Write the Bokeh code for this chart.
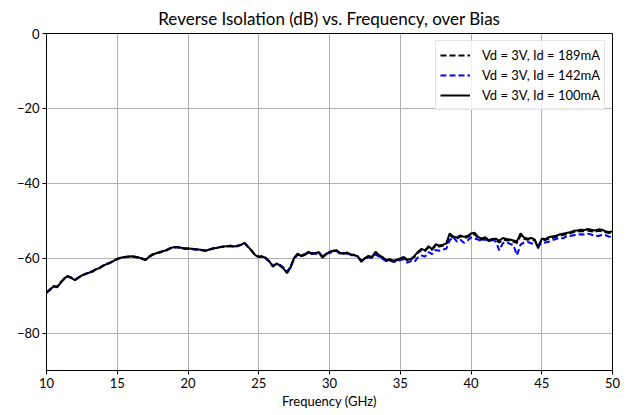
from bokeh.plotting import figure
from bokeh.models import Legend, LegendItem, ColumnDataSource, FixedTicker, Range1d
from bokeh.embed import file_html
from bokeh.resources import INLINE

freq_start = 10.0
freq_step = 0.25

s100 = [
-69.3,-68.3,-67.6,-67.8,-66.6,-65.4,-64.8,-65.3,-65.9,-65.2,-64.6,-64.2,-63.9,-63.5,-63.0,-62.6,
-62.0,-61.6,-61.2,-60.7,-60.2,-59.9,-59.7,-59.6,-59.5,-59.6,-59.8,-60.1,-60.5,-59.6,-59.0,-58.7,
-58.4,-58.1,-57.9,-57.3,-57.1,-57.1,-57.2,-57.4,-57.4,-57.5,-57.6,-57.7,-57.8,-58.0,-57.7,-57.4,
-57.3,-57.1,-56.9,-56.8,-56.7,-56.9,-56.7,-56.4,-55.9,-57.0,-58.0,-59.2,-59.7,-59.6,-59.9,-60.8,
-62.3,-61.4,-62.0,-62.8,-64.0,-62.5,-59.9,-58.8,-59.5,-59.2,-58.3,-58.9,-58.6,-58.5,-59.9,-59.0,
-58.3,-58.0,-57.9,-58.6,-58.8,-58.5,-59.0,-59.2,-59.5,-61.0,-60.0,-59.4,-59.7,-58.3,-59.2,-59.7,
-60.5,-60.3,-60.7,-60.4,-60.1,-59.7,-60.4,-60.2,-59.4,-58.3,-57.5,-57.9,-56.8,-57.6,-56.3,-56.6,
-56.4,-56.1,-53.4,-54.2,-54.5,-53.9,-54.3,-54.1,-53.4,-53.2,-54.3,-54.8,-54.4,-55.2,-54.9,-54.8,
-55.3,-54.6,-54.9,-55.0,-55.3,-55.5,-53.4,-54.5,-54.8,-54.6,-55.0,-57.4,-54.8,-54.9,-54.4,-54.2,
-54.0,-53.7,-53.5,-53.3,-53.1,-52.7,-52.6,-52.4,-52.5,-52.2,-52.4,-52.6,-52.3,-52.4,-52.8,-53.0,
-52.9]

s142 = [
-69.0,-68.5,-67.4,-67.6,-66.4,-65.6,-64.9,-65.2,-65.8,-65.3,-64.5,-64.3,-63.8,-63.6,-62.9,-62.7,
-62.1,-61.5,-61.3,-60.6,-60.3,-59.9,-59.8,-59.6,-59.6,-59.7,-59.9,-60.2,-60.4,-59.7,-59.1,-58.8,
-58.5,-58.2,-57.8,-57.4,-57.2,-57.0,-57.3,-57.5,-57.5,-57.6,-57.7,-57.8,-57.9,-58.1,-57.8,-57.5,
-57.2,-57.0,-57.0,-56.9,-56.8,-57.0,-56.8,-56.5,-56.0,-57.1,-58.1,-59.3,-59.6,-59.5,-60.1,-61.0,
-62.0,-61.7,-61.8,-62.5,-63.6,-62.2,-60.2,-59.1,-59.2,-58.9,-58.6,-58.5,-58.9,-58.4,-59.5,-58.8,
-58.6,-58.3,-58.1,-58.9,-58.6,-58.8,-59.3,-59.1,-59.8,-60.6,-60.2,-59.8,-59.9,-59.0,-59.6,-60.2,
-60.8,-60.6,-61.0,-60.9,-60.5,-60.3,-61.2,-60.8,-61.0,-59.8,-59.3,-59.6,-58.4,-58.9,-57.8,-58.0,
-57.7,-57.5,-55.2,-54.3,-55.6,-55.1,-55.9,-55.3,-54.5,-54.8,-55.0,-55.5,-55.0,-55.3,-54.9,-55.6,
-57.9,-56.0,-55.7,-56.2,-56.5,-59.2,-56.4,-55.8,-55.7,-56.0,-56.3,-56.6,-56.0,-55.8,-55.6,-55.2,
-54.9,-54.6,-54.7,-54.2,-54.1,-53.9,-53.8,-53.6,-53.7,-53.5,-53.7,-54.0,-54.1,-53.8,-53.9,-54.2,
-54.3]

s189 = [
-69.1,-68.4,-67.5,-67.7,-66.5,-65.5,-64.8,-65.2,-65.7,-65.2,-64.6,-64.2,-63.8,-63.5,-63.0,-62.6,
-62.0,-61.6,-61.2,-60.7,-60.2,-59.9,-59.7,-59.6,-59.5,-59.6,-59.8,-60.1,-60.4,-59.6,-59.0,-58.7,
-58.4,-58.1,-57.8,-57.3,-57.1,-57.0,-57.2,-57.4,-57.4,-57.5,-57.6,-57.7,-57.8,-58.0,-57.7,-57.4,
-57.2,-57.0,-56.9,-56.8,-56.7,-56.9,-56.7,-56.4,-55.9,-57.0,-58.0,-59.2,-59.6,-59.5,-60.0,-60.9,
-62.1,-61.5,-61.9,-62.6,-63.8,-62.3,-60.0,-58.9,-59.3,-59.0,-58.4,-58.7,-58.7,-58.4,-59.6,-58.9,
-58.4,-58.1,-58.0,-58.7,-58.7,-58.6,-59.1,-59.1,-59.6,-60.7,-60.1,-59.6,-59.8,-58.7,-59.4,-60.0,
-60.7,-60.5,-60.9,-60.6,-60.3,-60.0,-60.6,-60.4,-59.7,-58.6,-57.8,-58.1,-57.1,-57.8,-56.6,-56.9,
-56.7,-56.3,-53.8,-54.5,-54.8,-54.2,-54.6,-54.4,-53.8,-53.6,-54.6,-55.1,-54.7,-55.4,-55.2,-55.1,
-55.8,-55.0,-55.2,-55.3,-55.6,-56.0,-53.9,-54.8,-55.1,-54.9,-55.3,-56.8,-55.1,-55.2,-54.8,-54.6,
-54.3,-54.0,-53.8,-53.6,-53.4,-53.0,-52.9,-52.8,-52.8,-52.6,-52.8,-53.0,-52.7,-52.8,-53.1,-53.3,
-53.3]

x_ticks = [10, 15, 20, 25, 30, 35, 40, 45, 50]
y_ticks = [0, -20, -40, -60, -80]
y_tick_labels = {0: "0", -20: "\u221220", -40: "\u221240", -60: "\u221260", -80: "\u221280"}
labels = ["Vd = 3V, Id = 189mA", "Vd = 3V, Id = 142mA", "Vd = 3V, Id = 100mA"]

freqs = [freq_start + i * freq_step for i in range(len(s100))]

FONT = "Lato"

p = figure(width=631, height=415, output_backend="svg", toolbar_location=None,
           x_range=Range1d(10, 50), y_range=Range1d(-90, 0),
           title="Reverse Isolation (dB) vs. Frequency, over Bias",
           min_border_left=46, min_border_right=19, min_border_top=33, min_border_bottom=45)

p.title.align = "center"
p.title.text_font = FONT
p.title.text_font_size = "17px"
p.title.text_font_style = "normal"
p.title.text_color = "black"

p.outline_line_color = "black"
p.outline_line_width = 1
p.outline_line_alpha = 1

for ax in (p.xaxis[0], p.yaxis[0]):
    ax.axis_line_color = "black"
    ax.major_tick_line_color = "black"
    ax.minor_tick_line_color = None
    ax.major_tick_out = 4
    ax.major_tick_in = 0
    ax.major_label_text_font = FONT
    ax.major_label_text_font_size = "13px"
    ax.major_label_text_color = "black"
    ax.axis_label_text_font = FONT
    ax.axis_label_text_font_size = "13px"
    ax.axis_label_text_font_style = "normal"
    ax.axis_label_text_color = "black"
    ax.major_label_standoff = 3

p.xaxis[0].ticker = FixedTicker(ticks=x_ticks)
p.yaxis[0].ticker = FixedTicker(ticks=y_ticks)
p.yaxis[0].major_label_overrides = y_tick_labels
p.xaxis[0].axis_label = "Frequency (GHz)"
p.xaxis[0].axis_label_standoff = 2

p.xgrid.grid_line_color = "#b0b0b0"
p.ygrid.grid_line_color = "#b0b0b0"
p.xgrid.grid_line_width = 1
p.ygrid.grid_line_width = 1

src = ColumnDataSource(dict(f=freqs, a=s189, b=s142, c=s100))
r1 = p.line("f", "a", source=src, line_color="black", line_width=2, line_dash="6 3")
r2 = p.line("f", "b", source=src, line_color="blue", line_width=2, line_dash="6 3")
r3 = p.line("f", "c", source=src, line_color="black", line_width=2)

legend = Legend(items=[LegendItem(label=labels[0], renderers=[r1]),
                       LegendItem(label=labels[1], renderers=[r2]),
                       LegendItem(label=labels[2], renderers=[r3])],
                location="top_right")
legend.label_text_font = FONT
legend.label_text_font_size = "13px"
legend.label_text_color = "black"
legend.border_line_color = "#cccccc"
legend.border_line_width = 1
legend.background_fill_alpha = 0.8
legend.glyph_width = 30
legend.glyph_height = 20
legend.label_height = 20
legend.label_standoff = 12
legend.spacing = 0
legend.padding = 4
legend.margin = 7
p.add_layout(legend)

open("out.html", "w").write(file_html(p, INLINE))
